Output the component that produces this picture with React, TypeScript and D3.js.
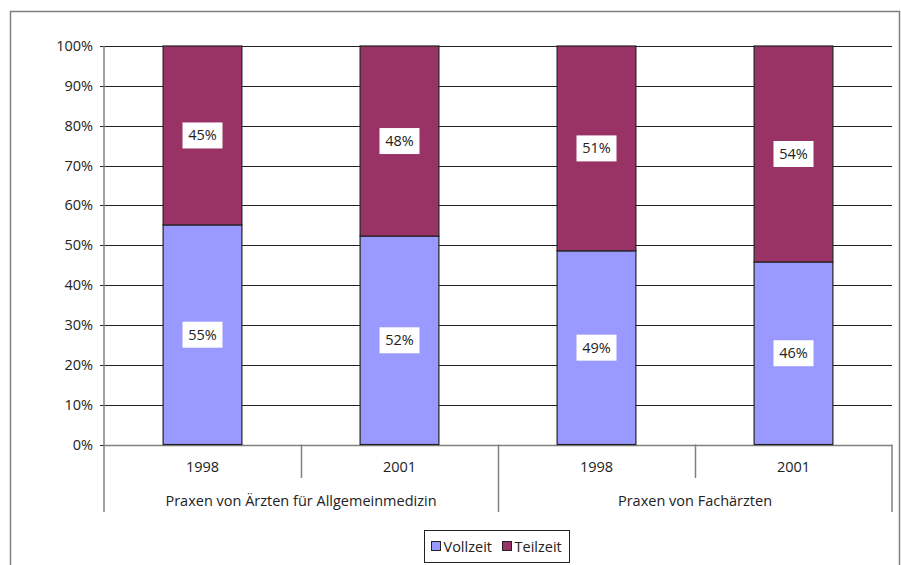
import React, { useEffect, useRef } from 'react';
import * as d3 from 'd3';

// data
const years = ['1998', '2001', '1998', '2001'];
const groups = ['Praxen von Ärzten für Allgemeinmedizin', 'Praxen von Fachärzten'];
const vollzeit = [55.1, 52.3, 48.6, 45.8];
const teilzeit = [44.9, 47.7, 51.4, 54.2];
const seriesNames = ['Vollzeit', 'Teilzeit'];
const seriesColors = ['#9999FF', '#993366'];
const yTicks = [0, 10, 20, 30, 40, 50, 60, 70, 80, 90, 100];

const App = () => {
  const svgRef = useRef<SVGSVGElement>(null);

  useEffect(() => {
    const svg = d3.select(svgRef.current);
    svg.selectAll('*').remove();
    const font = '"Open Sans", "DejaVu Sans", sans-serif';
    const fs = 14.5;

    // outer frame
    svg.append('rect')
      .attr('x', 10.5).attr('y', 11.5)
      .attr('width', 889).attr('height', 560)
      .attr('fill', '#fff').attr('stroke', '#808080').attr('stroke-width', 1.5);

    const left = 104, right = 892, top = 46, bottom = 444.5;

    const x = d3.scaleBand<number>()
      .domain(d3.range(years.length))
      .range([left, right])
      .paddingInner(0).paddingOuter(0);
    const y = d3.scaleLinear().domain([0, 100]).range([bottom, top]);

    const g = svg.append('g');

    // gridlines
    g.selectAll('.grid')
      .data(yTicks)
      .join('line')
      .attr('x1', left).attr('x2', right)
      .attr('y1', (d) => Math.round(y(d)) + 0.5)
      .attr('y2', (d) => Math.round(y(d)) + 0.5)
      .attr('stroke', (d) => (d === 0 ? '#808080' : '#222'))
      .attr('stroke-width', (d) => (d === 0 ? 1.5 : 1));

    // y tick marks and labels
    g.selectAll('.tick')
      .data(yTicks)
      .join('line')
      .attr('x1', left - 4).attr('x2', left)
      .attr('y1', (d) => Math.round(y(d)) + 0.5)
      .attr('y2', (d) => Math.round(y(d)) + 0.5)
      .attr('stroke', '#222');
    g.selectAll('.ylab')
      .data(yTicks)
      .join('text')
      .attr('x', left - 11)
      .attr('y', (d) => y(d) + 5)
      .attr('text-anchor', 'end')
      .attr('font-family', font)
      .attr('font-size', fs)
      .attr('fill', '#222')
      .text((d) => d + '%');

    const bw = x.bandwidth() * 0.4;
    const stacks = [vollzeit, teilzeit];

    stacks.forEach((vals, si) => {
      vals.forEach((v, i) => {
        const base = si === 0 ? 0 : vollzeit[i];
        const cx = x(i)! + x.bandwidth() / 2;
        const y0 = y(base), y1 = y(base + v);
        g.append('rect')
          .attr('x', cx - bw / 2)
          .attr('y', y1)
          .attr('width', bw)
          .attr('height', y0 - y1)
          .attr('fill', seriesColors[si])
          .attr('stroke', '#222')
          .attr('stroke-width', 1.2);
      });
    });

    // value labels
    stacks.forEach((vals, si) => {
      vals.forEach((v, i) => {
        const base = si === 0 ? 0 : vollzeit[i];
        const cx = x(i)! + x.bandwidth() / 2;
        const cy = y(base + v / 2);
        g.append('rect')
          .attr('x', cx - 20).attr('y', cy - 13)
          .attr('width', 40).attr('height', 26)
          .attr('fill', '#fff');
        g.append('text')
          .attr('x', cx).attr('y', cy + 5)
          .attr('text-anchor', 'middle')
          .attr('font-family', font)
          .attr('font-size', fs)
          .attr('fill', '#222')
          .text(Math.round(v) + '%');
      });
    });

    // y axis line
    g.append('line')
      .attr('x1', left).attr('x2', left)
      .attr('y1', top).attr('y2', 512)
      .attr('stroke', '#808080').attr('stroke-width', 1.5);

    // category separators
    d3.range(1, years.length).forEach((i) => {
      const xx = Math.round(x(i)!) + 0.5;
      const isGroup = i % 2 === 0;
      g.append('line')
        .attr('x1', xx).attr('x2', xx)
        .attr('y1', bottom).attr('y2', isGroup ? 512 : 478)
        .attr('stroke', '#808080').attr('stroke-width', 1.5);
    });
    g.append('line')
      .attr('x1', right).attr('x2', right)
      .attr('y1', bottom).attr('y2', 512)
      .attr('stroke', '#808080').attr('stroke-width', 1.5);

    // year labels
    g.selectAll('.year')
      .data(years)
      .join('text')
      .attr('x', (d, i) => x(i)! + x.bandwidth() / 2)
      .attr('y', 472)
      .attr('text-anchor', 'middle')
      .attr('font-family', font)
      .attr('font-size', fs)
      .attr('fill', '#222')
      .text((d) => d);

    // group labels
    g.selectAll('.group')
      .data(groups)
      .join('text')
      .attr('x', (d, i) => x(i * 2)! + x.bandwidth())
      .attr('y', 506)
      .attr('text-anchor', 'middle')
      .attr('font-family', font)
      .attr('font-size', fs)
      .attr('fill', '#222')
      .text((d) => d);

    // legend
    const lg = svg.append('g').attr('transform', 'translate(424.5,530.5)');
    lg.append('rect')
      .attr('width', 145).attr('height', 32)
      .attr('fill', '#fff').attr('stroke', '#222');
    const items = [{ x: 7, w: 67 }, { x: 78, w: 60 }];
    seriesNames.forEach((name, i) => {
      lg.append('rect')
        .attr('x', items[i].x).attr('y', 11)
        .attr('width', 9).attr('height', 9)
        .attr('fill', seriesColors[i]).attr('stroke', '#222');
      lg.append('text')
        .attr('x', items[i].x + 12).attr('y', 21)
        .attr('font-family', font)
        .attr('font-size', fs)
        .attr('fill', '#222')
        .text(name);
    });
  }, []);

  return (
    <svg ref={svgRef} width={901} height={565} style={{ position: 'absolute', left: 0, top: 0 }} />
  );
};

export default App;
